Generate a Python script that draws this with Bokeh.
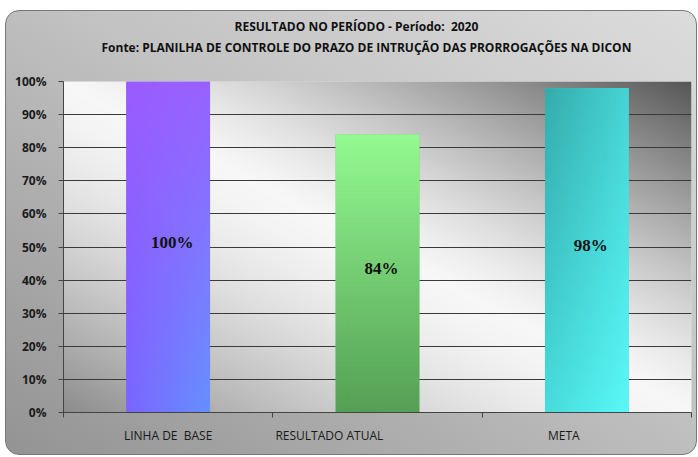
import numpy as np
from bokeh.plotting import figure
from bokeh.models import Range1d, FixedTicker, Title, ColumnDataSource, NumeralTickFormatter, CustomJSTickFormatter
from bokeh.embed import file_html
from bokeh.resources import INLINE
from bokeh.core.properties import value

# ---- data ----
categories = ["LINHA DE\u00a0 BASE", "RESULTADO ATUAL", "META"]
values = [1.00, 0.84, 0.98]
value_labels = ["100%", "84%", "98%"]
bar_colors = ["#7464ff", "#74c874", "#46d6d6"]
# gradient corner colours per bar: top-left, top-right, bottom-left, bottom-right
bar_gradients = [
    ["#9a5cff", "#9862ff", "#7a66ff", "#6690ff"],
    ["#94fa90", "#94fa90", "#55a055", "#55a055"],
    ["#36acac", "#46d4d4", "#48dcdc", "#5af8f8"],
]
y_ticks = [0.0, 0.1, 0.2, 0.3, 0.4, 0.5, 0.6, 0.7, 0.8, 0.9, 1.0]
title_line1 = "RESULTADO NO PERÍODO - Período:\u00a0 2020"
title_line2 = "Fonte: PLANILHA DE CONTROLE DO PRAZO DE INTRUÇÃO DAS PRORROGAÇÕES NA DICON"

n = len(categories)
centers = [i + 0.5 for i in range(n)]
bar_width = 0.4
# Excel-style label shift of the category labels (layout only)
label_shift = [0.0, -0.23, -0.11]
label_pos = [c + s for c, s in zip(centers, label_shift)]

p = figure(width=692, height=445, output_backend="svg", toolbar_location=None,
           x_range=Range1d(0, n), y_range=Range1d(0, 1),
           min_border_left=57, min_border_right=7, min_border_bottom=44, min_border_top=70)

p.border_fill_color = None
p.background_fill_color = "#dddddd"
p.outline_line_color = None
p.styles = {"background": "linear-gradient(to top right, #939393 0%, #c2c2c2 55%, #dcdcdc 100%)",
            "border": "1px solid #777", "border-radius": "14px", "box-sizing": "border-box",
            "margin-left": "5px", "margin-top": "10px"}

# titles (p.title is the topmost line)
p.title.text = title_line1
p.title.align = "left"
p.title.offset = 171
p.title.text_font = "Open Sans"
p.title.text_font_size = "12px"
p.title.text_font_style = "bold"
p.title.text_color = "#111111"
p.title.standoff = 2
spacer = Title(text=" ", text_font_size="16px", standoff=6)
t2 = Title(text=title_line2, align="left", offset=38, text_font="Open Sans", text_font_size="12px",
           text_font_style="bold", text_color="#111111", standoff=2)
p.add_layout(spacer, "above")
p.add_layout(t2, "above")


def to_rgba(arr):
    h, w, _ = arr.shape
    img = np.empty((h, w), dtype=np.uint32)
    view = img.view(dtype=np.uint8).reshape((h, w, 4))
    view[:, :, :3] = np.clip(arr, 0, 255).astype(np.uint8)
    view[:, :, 3] = 255
    return img


def hex_rgb(hx):
    return np.array([int(hx[i:i + 2], 16) for i in (1, 3, 5)], dtype=float)


# background gradient inside plot area
H, W = 160, 320
U, V = np.meshgrid(np.linspace(0, 1, W), np.linspace(0, 1, H))
s = U + V - 1
b = np.where(s < 0, 0.97 - 0.42 * np.abs(s) ** 1.5, 0.97 - 0.63 * np.abs(s) ** 1.3)
bg = np.repeat((b * 255)[:, :, None], 3, axis=2)
p.image_rgba(image=[to_rgba(bg)], x=0, y=0, dw=n, dh=1, level="image")

src = ColumnDataSource(dict(x=centers, top=values, color=bar_colors,
                            ly=[v / 2 for v in values], lab=value_labels))
p.vbar(x="x", top="top", width=bar_width, bottom=0, fill_color="color", line_color=None, source=src)

# gradient shading over each bar, sized from the data
gh, gw = 60, 30
gu, gv = np.meshgrid(np.linspace(0, 1, gw), np.linspace(0, 1, gh))
imgs = []
for corners in bar_gradients:
    tl, tr, bl, br = [hex_rgb(c) for c in corners]
    top = tl[None, None, :] * (1 - gu[:, :, None]) + tr[None, None, :] * gu[:, :, None]
    bot = bl[None, None, :] * (1 - gu[:, :, None]) + br[None, None, :] * gu[:, :, None]
    arr = bot * (1 - gv[:, :, None]) + top * gv[:, :, None]
    imgs.append(to_rgba(arr))
p.image_rgba(image=imgs, x=[c - bar_width / 2 for c in centers], y=[0] * n,
             dw=[bar_width] * n, dh=values)

p.text(x="x", y="ly", text="lab", source=src, text_font=value("Liberation Serif"),
       text_font_style="bold", text_font_size="17px", text_align="center",
       text_baseline="middle", x_offset=4, y_offset=-5, text_color="#111111")

# grid
p.xgrid.visible = False
p.ygrid.ticker = FixedTicker(ticks=y_ticks)
p.ygrid.grid_line_color = "#3a3a3a"
p.ygrid.grid_line_width = 1.2

# y axis
p.yaxis.ticker = FixedTicker(ticks=y_ticks)
p.yaxis.formatter = NumeralTickFormatter(format="0%")
p.yaxis.major_tick_out = 5
p.yaxis.major_tick_in = 0
p.yaxis.minor_tick_line_color = None
p.yaxis.axis_line_color = "#444444"
p.yaxis.major_tick_line_color = "#444444"
p.yaxis.major_label_text_font = "Open Sans"
p.yaxis.major_label_text_font_style = "bold"
p.yaxis.major_label_text_font_size = "12px"
p.yaxis.major_label_text_color = "#1a1a1a"
p.yaxis.major_label_standoff = 12

# x axis
p.xaxis.ticker = FixedTicker(ticks=label_pos, minor_ticks=[0, 1, 2, 3])
p.xaxis.formatter = CustomJSTickFormatter(args=dict(pos=label_pos, labels=categories), code="""
let best = 0;
for (let i = 0; i < pos.length; i++) { if (Math.abs(pos[i] - tick) < Math.abs(pos[best] - tick)) best = i; }
return labels[best];
""")
p.xaxis.major_tick_line_color = None
p.xaxis.major_tick_out = 0
p.xaxis.major_tick_in = 0
p.xaxis.minor_tick_line_color = "#444444"
p.xaxis.minor_tick_out = 5
p.xaxis.minor_tick_in = 0
p.xaxis.axis_line_color = "#444444"
p.xaxis.major_label_text_font = "Open Sans"
p.xaxis.major_label_text_font_size = "12px"
p.xaxis.major_label_text_color = "#1a1a1a"
p.xaxis.major_label_standoff = 9

open("out.html", "w").write(file_html(p, INLINE))
